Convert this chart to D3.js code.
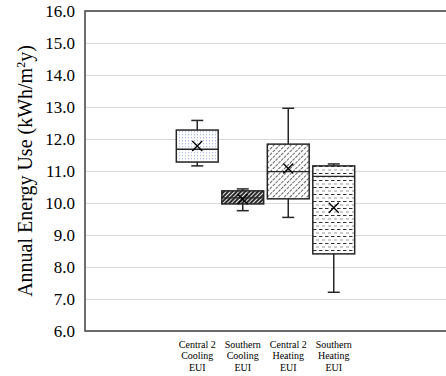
<!DOCTYPE html>
<html>
<head>
<meta charset="utf-8">
<script src="https://cdn.jsdelivr.net/npm/d3@7"></script>
<style>
  body { margin: 0; background: #fff; }
</style>
</head>
<body>
<div class="svg-container"></div>
<script>
// box plot data
const series = ["Central 2 Cooling EUI", "Southern Cooling EUI", "Central 2 Heating EUI", "Southern Heating EUI"];
const labelLines = [["Central 2", "Cooling", "EUI"], ["Southern", "Cooling", "EUI"], ["Central 2", "Heating", "EUI"], ["Southern", "Heating", "EUI"]];
const whiskerLow = [11.16, 9.76, 9.55, 7.21];
const q1 = [11.28, 9.97, 10.13, 8.41];
const median = [11.68, 10.16, 10.98, 10.83];
const q3 = [12.28, 10.38, 11.84, 11.16];
const whiskerHigh = [12.58, 10.44, 12.96, 11.22];
const mean = [11.78, 10.12, 11.08, 9.85];
const yTicks = [6, 7, 8, 9, 10, 11, 12, 13, 14, 15, 16];
const fills = ["pat-dots", "pat-dense", "pat-diag", "pat-dash"];

const serif = "'Times New Roman', Times, 'Liberation Serif', 'DejaVu Serif', serif";
const svgWidth = 446;
const svgHeight = 376;
const margin = { top: 11, right: 0, bottom: 45, left: 85 };
const width = svgWidth - margin.left - margin.right;
const height = svgHeight - margin.top - margin.bottom;

const svg = d3.select('.svg-container')
  .append('svg')
  .attr('width', svgWidth)
  .attr('height', svgHeight)
  .style('font-family', serif);

// fill patterns
const defs = svg.append('defs');
const p1 = defs.append('pattern').attr('id', 'pat-dots')
  .attr('patternUnits', 'userSpaceOnUse').attr('width', 3).attr('height', 3);
p1.append('rect').attr('width', 3).attr('height', 3).attr('fill', '#fff');
p1.append('rect').attr('x', 1).attr('y', 0).attr('width', 1).attr('height', 1.3).attr('fill', '#a8bde0');

const p2 = defs.append('pattern').attr('id', 'pat-dense')
  .attr('patternUnits', 'userSpaceOnUse').attr('width', 3).attr('height', 3)
  .attr('patternTransform', 'rotate(45)');
p2.append('rect').attr('width', 3).attr('height', 3).attr('fill', '#e8e8e8');
p2.append('rect').attr('x', 0).attr('width', 2).attr('height', 3).attr('fill', '#2a2a2a');

const p3 = defs.append('pattern').attr('id', 'pat-diag')
  .attr('patternUnits', 'userSpaceOnUse').attr('width', 4).attr('height', 4)
  .attr('patternTransform', 'rotate(45)');
p3.append('rect').attr('width', 4).attr('height', 4).attr('fill', '#fff');
p3.append('line').attr('x1', 0.5).attr('y1', 0).attr('x2', 0.5).attr('y2', 4)
  .attr('stroke', '#555').attr('stroke-width', 0.9).attr('stroke-dasharray', '3,1');

const p4 = defs.append('pattern').attr('id', 'pat-dash')
  .attr('patternUnits', 'userSpaceOnUse').attr('width', 6).attr('height', 7);
p4.append('rect').attr('width', 6).attr('height', 7).attr('fill', '#fff');
p4.append('rect').attr('x', 0).attr('y', 1).attr('width', 3.5).attr('height', 1).attr('fill', '#333');
p4.append('rect').attr('x', 3).attr('y', 4.5).attr('width', 3.5).attr('height', 1).attr('fill', '#999');

const group = svg.append('g')
  .attr('transform', `translate(${margin.left}, ${margin.top})`);

const y = d3.scaleLinear().domain([6, 16]).range([height, 0]);
// the four boxes sit together in the middle of the plot
const groupWidth = 182;
const x = d3.scaleBand()
  .domain(series)
  .range([(width - groupWidth) / 2, (width + groupWidth) / 2])
  .paddingInner(0.08)
  .paddingOuter(0.04);

// gridlines
group.append('g')
  .call(d3.axisLeft(y).tickValues(yTicks).tickSize(-width).tickFormat(''))
  .call((g) => g.select('.domain').remove())
  .call((g) => g.selectAll('line').attr('stroke', '#d9d9d9').attr('stroke-width', 1));

// y axis labels
group.append('g')
  .call(d3.axisLeft(y).tickValues(yTicks).tickSize(0).tickPadding(10).tickFormat(d3.format('.1f')))
  .call((g) => g.select('.domain').remove())
  .call((g) => g.selectAll('text')
    .attr('fill', '#000')
    .style('font-family', serif)
    .style('font-size', '17px'));

// plot frame: left, top, bottom
group.append('path')
  .attr('d', `M${width},0H0V${height}H${width}`)
  .attr('fill', 'none')
  .attr('stroke', '#404040')
  .attr('stroke-width', 1.5);

const boxes = group.selectAll('.box')
  .data(series)
  .enter()
  .append('g')
  .attr('class', 'box');

const cx = (i) => x(series[i]) + x.bandwidth() / 2;
const capW = 12;

// whiskers
boxes.append('line')
  .attr('x1', (d, i) => cx(i)).attr('x2', (d, i) => cx(i))
  .attr('y1', (d, i) => y(whiskerLow[i])).attr('y2', (d, i) => y(whiskerHigh[i]))
  .attr('stroke', '#262626').attr('stroke-width', 1.5);
boxes.append('line')
  .attr('x1', (d, i) => cx(i) - capW / 2).attr('x2', (d, i) => cx(i) + capW / 2)
  .attr('y1', (d, i) => y(whiskerLow[i])).attr('y2', (d, i) => y(whiskerLow[i]))
  .attr('stroke', '#262626').attr('stroke-width', 1.5);
boxes.append('line')
  .attr('x1', (d, i) => cx(i) - capW / 2).attr('x2', (d, i) => cx(i) + capW / 2)
  .attr('y1', (d, i) => y(whiskerHigh[i])).attr('y2', (d, i) => y(whiskerHigh[i]))
  .attr('stroke', '#262626').attr('stroke-width', 1.5);

// boxes
boxes.append('rect')
  .attr('x', (d) => x(d))
  .attr('width', x.bandwidth())
  .attr('y', (d, i) => y(q3[i]))
  .attr('height', (d, i) => y(q1[i]) - y(q3[i]))
  .attr('fill', (d, i) => `url(#${fills[i]})`)
  .attr('stroke', '#262626')
  .attr('stroke-width', 1.5);

// median
boxes.append('line')
  .attr('x1', (d) => x(d)).attr('x2', (d) => x(d) + x.bandwidth())
  .attr('y1', (d, i) => y(median[i])).attr('y2', (d, i) => y(median[i]))
  .attr('stroke', '#262626').attr('stroke-width', 1.3);

// mean marker
const m = 5;
boxes.append('path')
  .attr('d', (d, i) => {
    const px = cx(i), py = y(mean[i]);
    return `M${px - m},${py - m}L${px + m},${py + m}M${px - m},${py + m}L${px + m},${py - m}`;
  })
  .attr('stroke', '#000').attr('stroke-width', 1.4).attr('fill', 'none');

// category labels
const labels = group.append('g');
labelLines.forEach((lines, i) => {
  const t = labels.append('text')
    .attr('x', cx(i))
    .attr('y', height + 17)
    .attr('text-anchor', 'middle')
    .style('font-family', serif)
    .style('font-size', '10px');
  lines.forEach((ln, k) => {
    t.append('tspan').attr('x', cx(i)).attr('dy', k === 0 ? 0 : 11.3).text(ln);
  });
});

// y axis title
const title = svg.append('text')
  .attr('transform', `translate(32, ${margin.top + height / 2}) rotate(-90)`)
  .attr('text-anchor', 'middle')
  .style('font-family', serif)
  .style('font-size', '20px');
title.append('tspan').text('Annual Energy Use (kWh/m');
title.append('tspan').attr('dy', -7).style('font-size', '12px').text('2');
title.append('tspan').attr('dy', 7).text('y)');
</script>
</body>
</html>
